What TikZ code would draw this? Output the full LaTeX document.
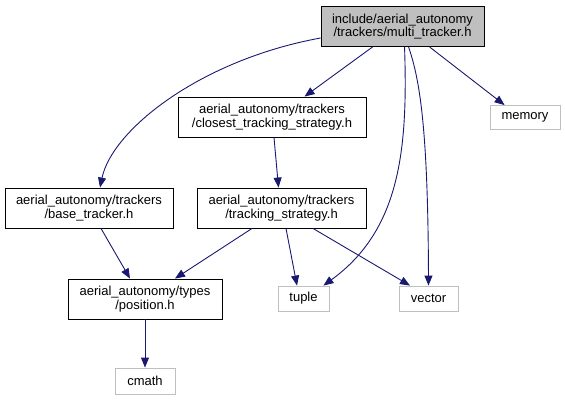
\documentclass[tikz,border=0pt]{standalone}
\usepackage{fontspec}
\setmainfont{Liberation Sans}
\usetikzlibrary{arrows.meta,calc}
\definecolor{edgeblue}{HTML}{191970}
\definecolor{sysgray}{HTML}{BFBFBF}
\tikzset{
  box/.style={draw=black, line width=0.9pt, inner sep=0pt, align=center, font=\fontsize{13}{13.5}\selectfont, anchor=center},
  sysbox/.style={draw=sysgray, line width=0.9pt, inner sep=0pt, align=center, font=\fontsize{13}{13.5}\selectfont, anchor=center},
  edge/.style={draw=edgeblue, line width=0.9pt, -{Triangle[length=10pt,width=8pt]}},
}
\begin{document}
\begin{tikzpicture}[x=1pt,y=-1pt]
\useasboundingbox (0,0) rectangle (565,400);
\node[box, fill=sysgray, minimum width=163pt, minimum height=40pt] (multi) at (402.5,26.5) {include/aerial\_autonomy\\/trackers/multi\_tracker.h};
\node[box, minimum width=188pt, minimum height=40pt] (closest) at (272,117) {aerial\_autonomy/trackers\\/closest\_tracking\_strategy.h};
\node[box, minimum width=168pt, minimum height=40pt] (base) at (89,208) {aerial\_autonomy/trackers\\/base\_tracker.h};
\node[box, minimum width=169pt, minimum height=40pt] (tracking) at (281.5,208) {aerial\_autonomy/trackers\\/tracking\_strategy.h};
\node[box, minimum width=154pt, minimum height=40pt] (position) at (145,299) {aerial\_autonomy/types\\/position.h};
\node[sysbox, minimum width=51pt, minimum height=25pt] (tuple) at (303.5,298.5) {tuple};
\node[sysbox, minimum width=59pt, minimum height=25pt] (vector) at (428.5,298.5) {vector};
\node[sysbox, minimum width=60pt, minimum height=26pt] (cmath) at (145,381) {cmath};
\node[sysbox, minimum width=70pt, minimum height=24pt] (memory) at (525,117.5) {memory};

\draw[edge] ($(multi.south west)+(52,0)$) -- ($(closest.north west)+(127,0)$);
\draw[edge] ($(multi.west)+(0,11.5)$) .. controls (200,60) and (112,130) .. ($(base.north)+(11,0)$);
\draw[edge] ($(multi.south west)+(84,0)$) .. controls (408,150) and (400,230) .. ($(tuple.north east)+(-6,0)$);
\draw[edge] ($(multi.south west)+(88,0)$) .. controls (420,80) and (428,130) .. (vector.north);
\draw[edge] ($(multi.south west)+(109,0)$) -- ($(memory.north west)+(15,0)$);
\draw[edge] ($(closest.south)+(2,0)$) -- ($(tracking.north)+(-3,0)$);
\draw[edge] ($(base.south)+(12,0)$) -- ($(position.north)+(-15,0)$);
\draw[edge] ($(tracking.south)+(-29.5,0)$) -- ($(position.north)+(30,0)$);
\draw[edge] ($(tracking.south)+(4.5,0)$) -- ($(tuple.north)+(-6.5,0)$);
\draw[edge] ($(tracking.south)+(31.5,0)$) -- ($(vector.north)+(-18.5,0)$);
\draw[edge] (position.south) -- (cmath.north);
\end{tikzpicture}
\end{document}
